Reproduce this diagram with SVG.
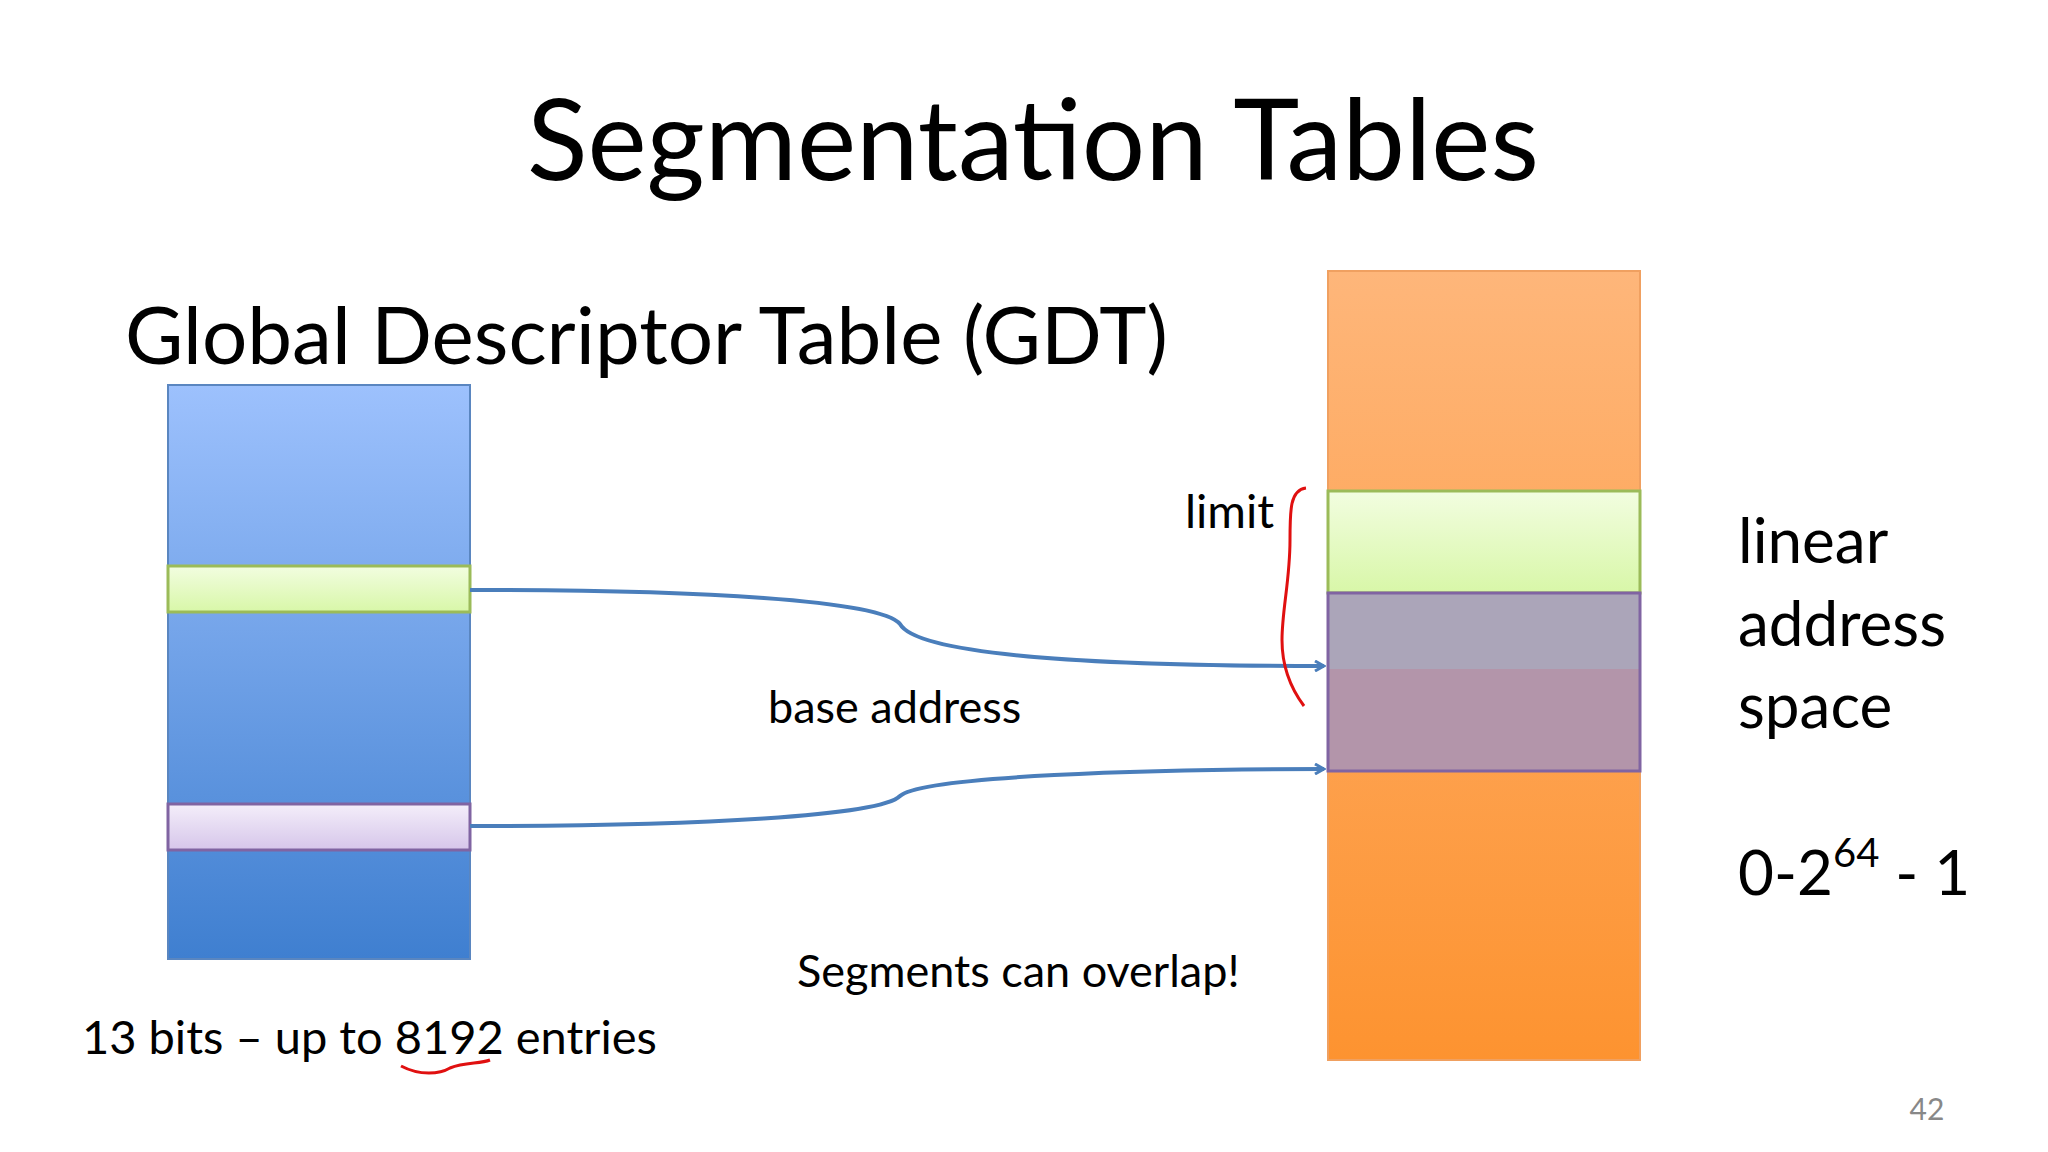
<svg xmlns="http://www.w3.org/2000/svg" width="2048" height="1152" viewBox="0 0 2048 1152">
<defs>
<linearGradient id="blue" x1="0" y1="0" x2="0" y2="1"><stop offset="0" stop-color="#9dc1fd"/><stop offset="1" stop-color="#3f7fd0"/></linearGradient>
<linearGradient id="orange" x1="0" y1="0" x2="0" y2="1"><stop offset="0" stop-color="#feb67a"/><stop offset="1" stop-color="#fd9330"/></linearGradient>
<linearGradient id="green" x1="0" y1="0" x2="0" y2="1"><stop offset="0" stop-color="#f2fde0"/><stop offset="1" stop-color="#d8f7a8"/></linearGradient>
<linearGradient id="lilac" x1="0" y1="0" x2="0" y2="1"><stop offset="0" stop-color="#f4eefa"/><stop offset="1" stop-color="#d6c6ea"/></linearGradient>
<marker id="ah" markerWidth="12" markerHeight="12" refX="10" refY="6" orient="auto" markerUnits="userSpaceOnUse"><path d="M1,1 L10,6 L1,11" fill="none" stroke="#4a7ebb" stroke-width="3"/></marker>
<style>
text{font-family:Lato,"Open Sans","Liberation Sans",sans-serif;fill:#000}
.conn{fill:none;stroke:#4a7ebb;stroke-width:4;marker-end:url(#ah)}
.red{fill:none;stroke:#e01010;stroke-width:3}
</style>
</defs>
<rect width="2048" height="1152" fill="#fff"/>
<text x="1033" y="180" font-size="112" text-anchor="middle">Segmentation Tables</text>
<text x="125" y="364" font-size="80">Global Descriptor Table (GDT)</text>
<g id="gdt">
<rect x="168" y="385" width="302" height="574" fill="url(#blue)" stroke="#5a86c0" stroke-width="2"/>
<rect id="gdt-green" x="168" y="566" width="302" height="46" fill="url(#green)" stroke="#9bbb59" stroke-width="3"/>
<rect id="gdt-purple" x="168" y="804" width="302" height="46" fill="url(#lilac)" stroke="#8064a2" stroke-width="3"/>
</g>
<g id="linear">
<rect x="1328" y="271" width="312" height="789" fill="url(#orange)" stroke="#f0a060" stroke-width="2"/>
<rect id="seg-green" x="1328" y="491" width="312" height="102" fill="url(#green)" stroke="#9bbb59" stroke-width="3"/>
<rect x="1328" y="593" width="312" height="78" fill="#aba5b9"/>
<rect x="1328" y="669" width="312" height="102" fill="#b395aa"/>
<rect id="seg-purple" x="1328" y="593" width="312" height="178" fill="none" stroke="#8064a2" stroke-width="3"/>
</g>
<g id="connectors">
<path class="conn" d="M470,590 C700,590 880,600 900,624 C920,660 1150,666 1324,666"/>
<path class="conn" d="M470,826 C700,826 880,816 900,796 C920,776 1150,769 1324,769"/>
</g>
<text x="1185" y="528" font-size="47">limit</text>
<path class="red" d="M1306,488 C1290,490 1290,510 1290,540 C1290,580 1282,610 1282,640 C1282,670 1292,690 1304,706"/>
<text x="768" y="723" font-size="45">base address</text>
<text x="797" y="987" font-size="45">Segments can overlap!</text>
<text x="82" y="1054" font-size="47">13 bits – up to 8192 entries</text>
<path class="red" d="M401,1066 C420,1076 440,1074 450,1068 C465,1062 480,1064 490,1060"/>
<text x="1738" y="563" font-size="62">linear</text>
<text x="1738" y="646" font-size="62">address</text>
<text x="1738" y="728" font-size="62">space</text>
<text x="1738" y="895" font-size="62">0-2<tspan font-size="40" dy="-28">64</tspan><tspan dy="28"> - 1</tspan></text>
<text x="1927" y="1120" font-size="30" fill="#888" text-anchor="middle" style="fill:#888">42</text>
</svg>
